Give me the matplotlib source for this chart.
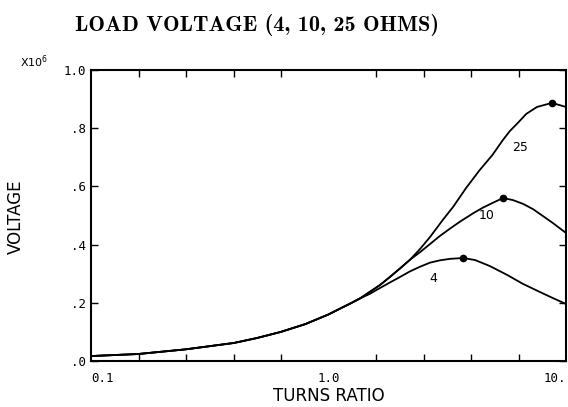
import matplotlib
matplotlib.use("Agg")
import matplotlib.pyplot as plt

# Data (voltage in units of 1e6)
common_x = [0.1, 0.158, 0.25, 0.4, 0.5, 0.63, 0.8, 1.0, 1.118, 1.232, 1.357]
common_y = [0.017, 0.024, 0.040, 0.062, 0.079, 0.100, 0.127, 0.160, 0.180, 0.197, 0.215]

x4 = common_x + [1.495, 1.60, 1.815, 1.943, 2.204, 2.429, 2.676, 2.948, 3.248, 3.684,
                 4.14, 4.786, 5.645, 6.59, 7.77, 8.82, 10.0]
y4 = common_y + [0.231, 0.245, 0.270, 0.283, 0.308, 0.324, 0.338, 0.346, 0.351, 0.354,
                 0.347, 0.326, 0.296, 0.265, 0.237, 0.216, 0.196]

upper_x = [1.495, 1.647, 1.815, 2.0, 2.204]
upper_y = [0.238, 0.261, 0.289, 0.318, 0.348]

x10 = common_x + upper_x + [2.429, 2.676, 2.948, 3.248, 3.58, 4.07, 4.47, 4.9, 5.43,
                            5.98, 6.59, 7.26, 8.0, 8.81, 10.0]
y10 = common_y + upper_y + [0.374, 0.402, 0.430, 0.455, 0.479, 0.508, 0.527, 0.543, 0.560,
                            0.553, 0.540, 0.522, 0.498, 0.474, 0.440]

x25 = common_x + upper_x + [2.429, 2.676, 3.03, 3.35, 3.8, 4.33, 4.9, 5.43, 5.8, 6.3,
                            6.8, 7.55, 8.73, 10.0]
y25 = common_y + upper_y + [0.385, 0.426, 0.485, 0.530, 0.595, 0.656, 0.708, 0.760, 0.790,
                            0.820, 0.849, 0.873, 0.887, 0.873]

peaks_x = [3.684, 5.43, 8.73]
peaks_y = [0.354, 0.560, 0.887]

labels = ["4", "10", "25"]
label_x = [2.75, 4.64, 6.4]
label_y = [0.285, 0.50, 0.735]

xtick_vals = [0.1, 1.0, 10.0]
xtick_labels = ["0.1", "1.0", "10."]
ytick_vals = [0.0, 0.2, 0.4, 0.6, 0.8, 1.0]
ytick_labels = [".0", ".2", ".4", ".6", ".8", "1.0"]

fig = plt.figure(figsize=(5.68, 4.07), dpi=100)
ax = fig.add_axes([91/568, 1 - 361/407, (566-91)/568, (361-70)/407])

for xs, ys in [(x4, y4), (x10, y10), (x25, y25)]:
    ax.plot(xs, ys, color="black", lw=1.3, solid_joinstyle="round")
ax.plot(peaks_x, peaks_y, "o", color="black", ms=4.5)

for t, lx, ly in zip(labels, label_x, label_y):
    ax.text(lx, ly, t, fontsize=9, ha="center", va="center", family="DejaVu Sans")

ax.set_xscale("log")
ax.set_xlim(0.1, 10)
ax.set_ylim(0, 1.0)

minor = [10 ** (-1 + 0.2 * k) for k in range(1, 10)]
ax.set_xticks(xtick_vals)
ax.set_xticklabels(xtick_labels, family="DejaVu Sans Mono", fontsize=9)
ax.set_xticks(minor, minor=True)
ax.xaxis.set_minor_formatter(matplotlib.ticker.NullFormatter())
ax.set_yticks(ytick_vals)
ax.set_yticklabels(ytick_labels, family="DejaVu Sans Mono", fontsize=9)
xl = ax.get_xticklabels()
xl[0].set_horizontalalignment("left")
xl[-1].set_horizontalalignment("right")

ax.tick_params(which="both", direction="in", top=True, right=True, length=5, width=1)
ax.tick_params(axis="x", which="major", length=0, pad=8)
for s in ax.spines.values():
    s.set_linewidth(1.5)

ax.set_xlabel("TURNS RATIO", fontsize=12, family="DejaVu Sans")
ax.xaxis.set_label_coords(0.5, -(396 - 361) / 291, transform=ax.transAxes)
ax.xaxis.label.set_va("center")
ax.set_ylabel("VOLTAGE", fontsize=12, family="DejaVu Sans")
ax.yaxis.set_label_coords(-(91 - 16) / 475, (361 - 217) / 291)
ax.yaxis.label.set_va("center")

fig.text(20/568, 1 - 62/407, r"X10$^6$", fontsize=8, family="DejaVu Sans", va="center")
fig.text(257/568, 1 - 25/407, "LOAD VOLTAGE (4, 10, 25 OHMS)", fontsize=16,
         family="cmb10", ha="center", va="center")

fig.savefig("out.png", dpi=100)
